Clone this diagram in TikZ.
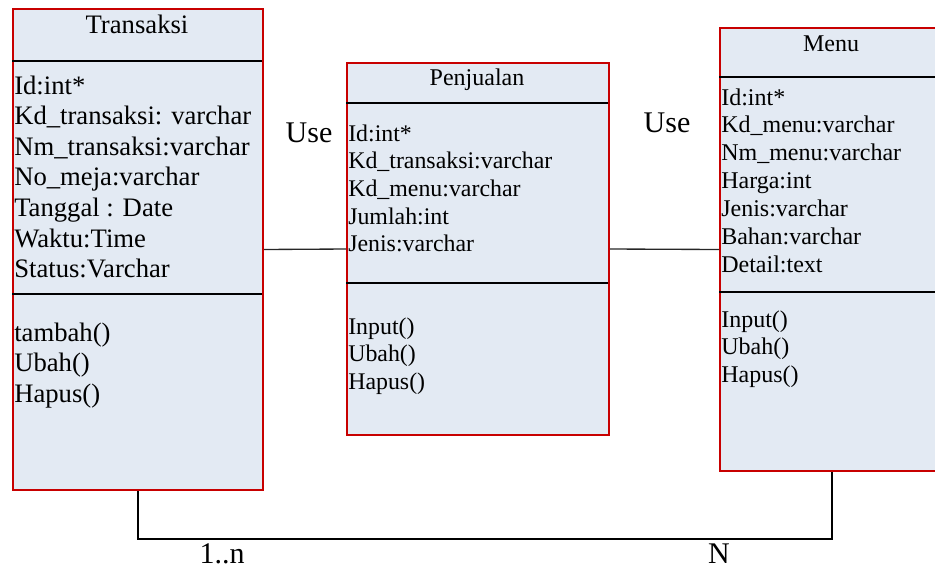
\documentclass[tikz,border=0pt]{standalone}
\usepackage{fontspec}
\setmainfont{Liberation Serif}
\definecolor{boxfill}{RGB}{227,234,243}
\definecolor{boxline}{RGB}{200,0,0}
\begin{document}
\begin{tikzpicture}[x=0.75pt,y=-0.75pt,
  classbox/.style={draw=boxline, fill=boxfill, line width=1.5pt, inner sep=0pt, anchor=north west},
  divider/.style={draw=black, line width=1.5pt},
  uselink/.style={draw=black!85, line width=1pt},
  relation/.style={draw=black, line width=1.5pt},
  ttl/.style={inner sep=0pt, anchor=base},
  line/.style={inner sep=0pt, anchor=base west},
  label/.style={inner sep=0pt, anchor=base, font=\fontsize{22.5}{26}\selectfont},
]
\useasboundingbox (0,0) rectangle (935,568);

% class boxes
\node[classbox, minimum width=187.5pt, minimum height=360.75pt] (tr) at (12,8) {};
\node[classbox, minimum width=196.5pt, minimum height=279pt] (pj) at (346,62) {};
\node[classbox, minimum width=168pt, minimum height=332.25pt] (mn) at (719,27) {};

% compartment separators
\draw[divider] (12,61) -- (262,61);
\draw[divider] (12,294) -- (262,294);
\draw[divider] (346,103) -- (608,103);
\draw[divider] (346,283) -- (608,283);
\draw[divider] (719,77) -- (943,77);
\draw[divider] (719,292) -- (943,292);

% class names
\node[ttl, font=\fontsize{20}{23}\selectfont] (trname) at (137,33) {Transaksi};
\node[ttl, font=\fontsize{18}{21}\selectfont] (pjname) at (477,85) {Penjualan};
\node[ttl, font=\fontsize{18}{21}\selectfont] (mnname) at (831,51) {Menu};

% Transaksi members
\begin{scope}[every node/.style={line, font=\fontsize{20}{23}\selectfont}]
\foreach \t [count=\i] in {Id:int*, Kd\_transaksi: varchar, Nm\_transaksi:varchar,
    No\_meja:varchar, Tanggal : Date, Waktu:Time, Status:Varchar}
  \node (tra\i) at (14,{94+30.6*(\i-1)}) {\t};
\foreach \t [count=\i] in {tambah(), Ubah(), Hapus()}
  \node (trm\i) at (14,{341+30.6*(\i-1)}) {\t};
\end{scope}

% Penjualan members
\begin{scope}[every node/.style={line, font=\fontsize{17.9}{20.6}\selectfont}]
\foreach \t [count=\i] in {Id:int*, Kd\_transaksi:varchar, Kd\_menu:varchar,
    Jumlah:int, Jenis:varchar}
  \node (pja\i) at (348,{141+27.7*(\i-1)}) {\t};
\foreach \t [count=\i] in {Input(), Ubah(), Hapus()}
  \node (pjm\i) at (348,{334+27.5*(\i-1)}) {\t};
\end{scope}

% Menu members
\begin{scope}[every node/.style={line, font=\fontsize{18}{21}\selectfont}]
\foreach \t [count=\i] in {Id:int*, Kd\_menu:varchar, Nm\_menu:varchar,
    Harga:int, Jenis:varchar, Bahan:varchar, Detail:text}
  \node (mna\i) at (721,{105+27.9*(\i-1)}) {\t};
\foreach \t [count=\i] in {Input(), Ubah(), Hapus()}
  \node (mnm\i) at (721,{327+27.6*(\i-1)}) {\t};
\end{scope}

% associations
\draw[uselink] (tr.east) -- (pj.west);
\draw[uselink] (pj.east) -- (mn.west);
\draw[relation] (tr.south) -- ++(0,48) -| (mn.south);

% association labels
\node[label] (use1) at (309,142) {Use};
\node[label] (use2) at (667,132) {Use};
\node[label] (mult1) at (222,563) {1..n};
\node[label] (mult2) at (719,563) {N};
\end{tikzpicture}
\end{document}
